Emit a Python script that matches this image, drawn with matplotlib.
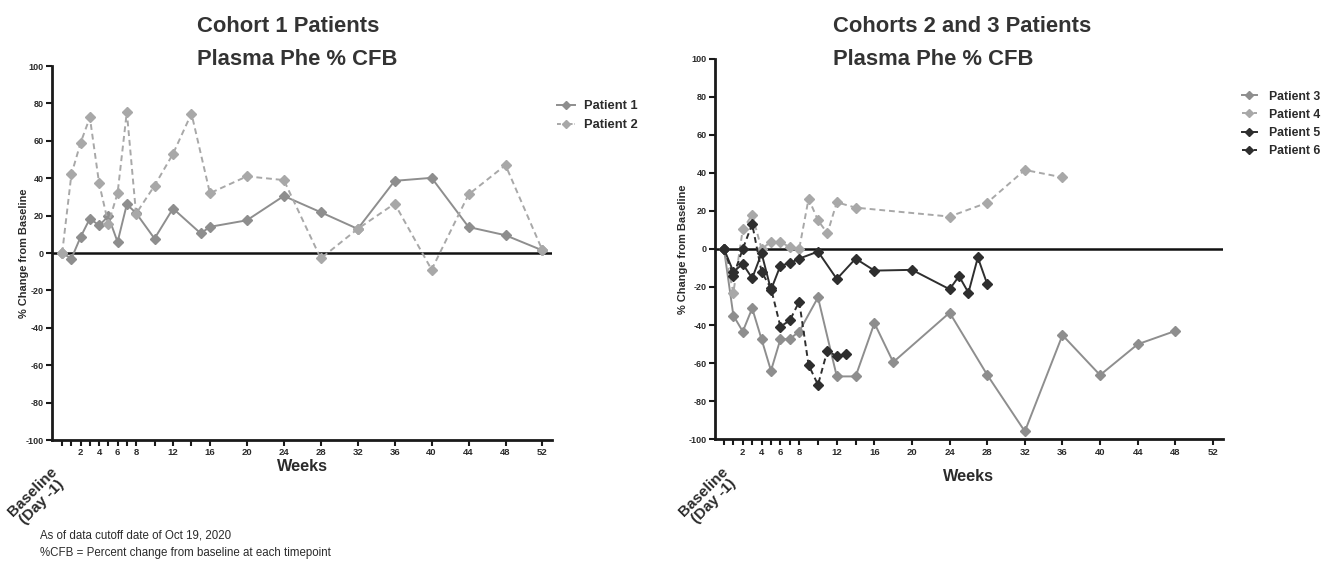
import matplotlib
matplotlib.use("Agg")
import matplotlib.pyplot as plt
from matplotlib.lines import Line2D

plt.rcParams['font.family'] = ['Liberation Sans', 'DejaVu Sans']

# ---------------- data ----------------
p1_weeks = [0, 1, 2, 3, 4, 5, 6, 7, 8, 10, 12, 15, 16, 20, 24, 28, 32, 36, 40, 44, 48, 52]
p1_vals = [0, -3, 8.6, 18.4, 14.8, 19.6, 5.9, 26, 21.4, 7.7, 23.8, 10.5, 14, 17.5, 30.5, 21.8,
           12.9, 38.6, 40.2, 13.9, 9.5, 1.4]
p2_weeks = [0, 1, 2, 3, 4, 5, 6, 7, 8, 10, 12, 14, 16, 20, 24, 28, 32, 36, 40, 44, 48, 52]
p2_vals = [0, 42, 59, 72.5, 37.3, 15.7, 32, 75.5, 21, 36, 53, 74.6, 32, 41, 39, -2.9,
           12.9, 26.4, -8.9, 31.3, 47, 1.4]

p3_weeks = [0, 1, 2, 3, 4, 5, 6, 7, 8, 10, 12, 14, 16, 18, 24, 28, 32, 36, 40, 44, 48]
p3_vals = [0, -35, -43.4, -31.2, -47.5, -64, -47.5, -47.3, -43.4, -25.5, -67, -67, -39, -59.5,
           -33.5, -66.2, -95.9, -45.3, -66.3, -50.1, -43.1]
p4_weeks = [0, 1, 2, 3, 4, 5, 6, 7, 8, 9, 10, 11, 12, 14, 24, 28, 32, 36]
p4_vals = [0, -23, 10.3, 17.9, 0, 3.7, 3.7, 0.9, 0, 26.4, 15, 8.2, 24.5, 21.7, 17, 24.3, 41.5, 37.6]
p5_weeks = [0, 1, 2, 3, 4, 5, 6, 7, 8, 10, 12, 14, 16, 20, 24, 25, 26, 27, 28]
p5_vals = [0, -12, -7.9, -15.4, -2.3, -21.5, -8.8, -7.5, -5.1, -1.4, -15.8, -5.1, -11.4, -11,
           -21.2, -14.3, -23, -4.5, -18.5]
p6_weeks = [0, 1, 2, 3, 4, 5, 6, 7, 8, 9, 10, 11, 12, 13]
p6_vals = [0, -14.2, 0, 13.1, -12.1, -20.7, -40.8, -37.6, -27.7, -61, -71.4, -53.4, -56.5, -55.1]

tick_labels = ['2', '4', '6', '8', '12', '16', '20', '24', '28', '32', '36', '40', '44', '48', '52']
label_weeks = [2, 4, 6, 8, 12, 16, 20, 24, 28, 32, 36, 40, 44, 48, 52]
minor_weeks = [0, 1, 3, 5, 7, 10, 14]
y_ticks = [-100, -80, -60, -40, -20, 0, 20, 40, 60, 80, 100]

# ---------------- styles ----------------
GRAY = '#8e8e8e'
LGRAY = '#a8a8a8'
DARK = '#2e2e2e'
TXT = '#2b2b2b'
W, H = 1323, 577

fig = plt.figure(figsize=(W / 100, H / 100), dpi=100)
axL = fig.add_axes([0.0393, 0.2374, 0.3777, 0.6482])
axR = fig.add_axes([0.5404, 0.2388, 0.3842, 0.6596])


def style_axis(ax, xmin, xmax, ylab_x):
    ax.set_xlim(xmin, xmax)
    ax.set_ylim(-100, 100)
    for s in ['top', 'right']:
        ax.spines[s].set_visible(False)
    for s in ['left', 'bottom']:
        ax.spines[s].set_linewidth(2.0)
        ax.spines[s].set_color('#1a1a1a')
    ax.set_yticks(y_ticks)
    ax.set_yticklabels([str(v) for v in y_ticks], fontsize=6.5, fontweight='bold', color=TXT)
    ax.set_xticks(label_weeks)
    ax.set_xticklabels(tick_labels, fontsize=6.8, fontweight='bold', color=TXT)
    ax.set_xticks(minor_weeks, minor=True)
    ax.tick_params(axis='both', which='both', width=1.5, length=4, color='#1a1a1a', pad=2)
    ax.axhline(0, color='#111111', lw=1.8, zorder=1)
    ax.set_ylabel('% Change from Baseline', fontsize=7.9, fontweight='bold', color=TXT)
    ax.yaxis.set_label_coords(ylab_x, 0.5)


mk = dict(marker='D', markersize=4.6, zorder=3)
dash = (0, (3, 2))
hdash = (0, (2, 1))

# Left chart
style_axis(axL, -1.1, 53.0, -0.046)
axL.plot(p1_weeks, p1_vals, color=GRAY, lw=1.4, ls='-', **mk)
axL.plot(p2_weeks, p2_vals, color=LGRAY, lw=1.4, ls=dash, **mk)
axL.text(0.502, -0.072, 'Weeks', transform=axL.transAxes, ha='center', va='center',
         fontsize=11.7, fontweight='bold', color=TXT)
axL.text(-0.03, -0.152, 'Baseline\n(Day -1)', transform=axL.transAxes, ha='center', va='center',
         rotation=45, fontsize=11, fontweight='bold', color=TXT, linespacing=1.0)
fig.text(197 / W, 1 - 32 / H, 'Cohort 1 Patients', ha='left', va='baseline',
         fontsize=15.8, fontweight='bold', color='#333333')
fig.text(197 / W, 1 - 65 / H, 'Plasma Phe % CFB', ha='left', va='baseline',
         fontsize=15.8, fontweight='bold', color='#333333')

legL = [Line2D([0], [0], color=GRAY, lw=1.4, ls='-', marker='D', markersize=4),
        Line2D([0], [0], color=LGRAY, lw=1.4, ls=hdash, marker='D', markersize=4)]
fig.legend(legL, ['Patient 1', 'Patient 2'], loc='upper left', bbox_to_anchor=(548 / W, 1 - 91 / H),
           frameon=False, prop={'size': 9.3, 'weight': 'bold'}, handlelength=1.4, labelspacing=0.55,
           handletextpad=0.7, labelcolor=TXT, borderpad=0.2)

# Right chart
style_axis(axR, -0.96, 53.1, -0.053)
axR.plot(p3_weeks, p3_vals, color=GRAY, lw=1.4, ls='-', **mk)
axR.plot(p4_weeks, p4_vals, color=LGRAY, lw=1.4, ls=dash, **mk)
axR.plot(p5_weeks, p5_vals, color=DARK, lw=1.4, ls='-', **mk)
axR.plot(p6_weeks, p6_vals, color=DARK, lw=1.4, ls=dash, **mk)
axR.text(0.498, -0.099, 'Weeks', transform=axR.transAxes, ha='center', va='center',
         fontsize=11.7, fontweight='bold', color=TXT)
axR.text(-0.012, -0.151, 'Baseline\n(Day -1)', transform=axR.transAxes, ha='center', va='center',
         rotation=45, fontsize=11, fontweight='bold', color=TXT, linespacing=1.0)
fig.text(833 / W, 1 - 32 / H, 'Cohorts 2 and 3 Patients', ha='left', va='baseline',
         fontsize=15.8, fontweight='bold', color='#333333')
fig.text(833 / W, 1 - 65 / H, 'Plasma Phe % CFB', ha='left', va='baseline',
         fontsize=15.8, fontweight='bold', color='#333333')

legR = [Line2D([0], [0], color=GRAY, lw=1.4, ls='-', marker='D', markersize=4),
        Line2D([0], [0], color=LGRAY, lw=1.4, ls=hdash, marker='D', markersize=4),
        Line2D([0], [0], color=DARK, lw=1.4, ls='-', marker='D', markersize=4),
        Line2D([0], [0], color=DARK, lw=1.4, ls=hdash, marker='D', markersize=4)]
fig.legend(legR, ['Patient 3', 'Patient 4', 'Patient 5', 'Patient 6'], loc='upper left',
           bbox_to_anchor=(1233 / W, 1 - 82 / H), frameon=False,
           prop={'size': 8.8, 'weight': 'bold'}, handlelength=1.25, labelspacing=0.5,
           handletextpad=1.0, labelcolor=TXT, borderpad=0.2)

fig.text(40 / W, 1 - 536 / H, 'As of data cutoff date of Oct 19, 2020', ha='left', va='center',
         fontsize=8.3, color=TXT)
fig.text(40 / W, 1 - 553 / H, '%CFB = Percent change from baseline at each timepoint', ha='left',
         va='center', fontsize=8.3, color=TXT)

fig.savefig('out.png', dpi=100)
